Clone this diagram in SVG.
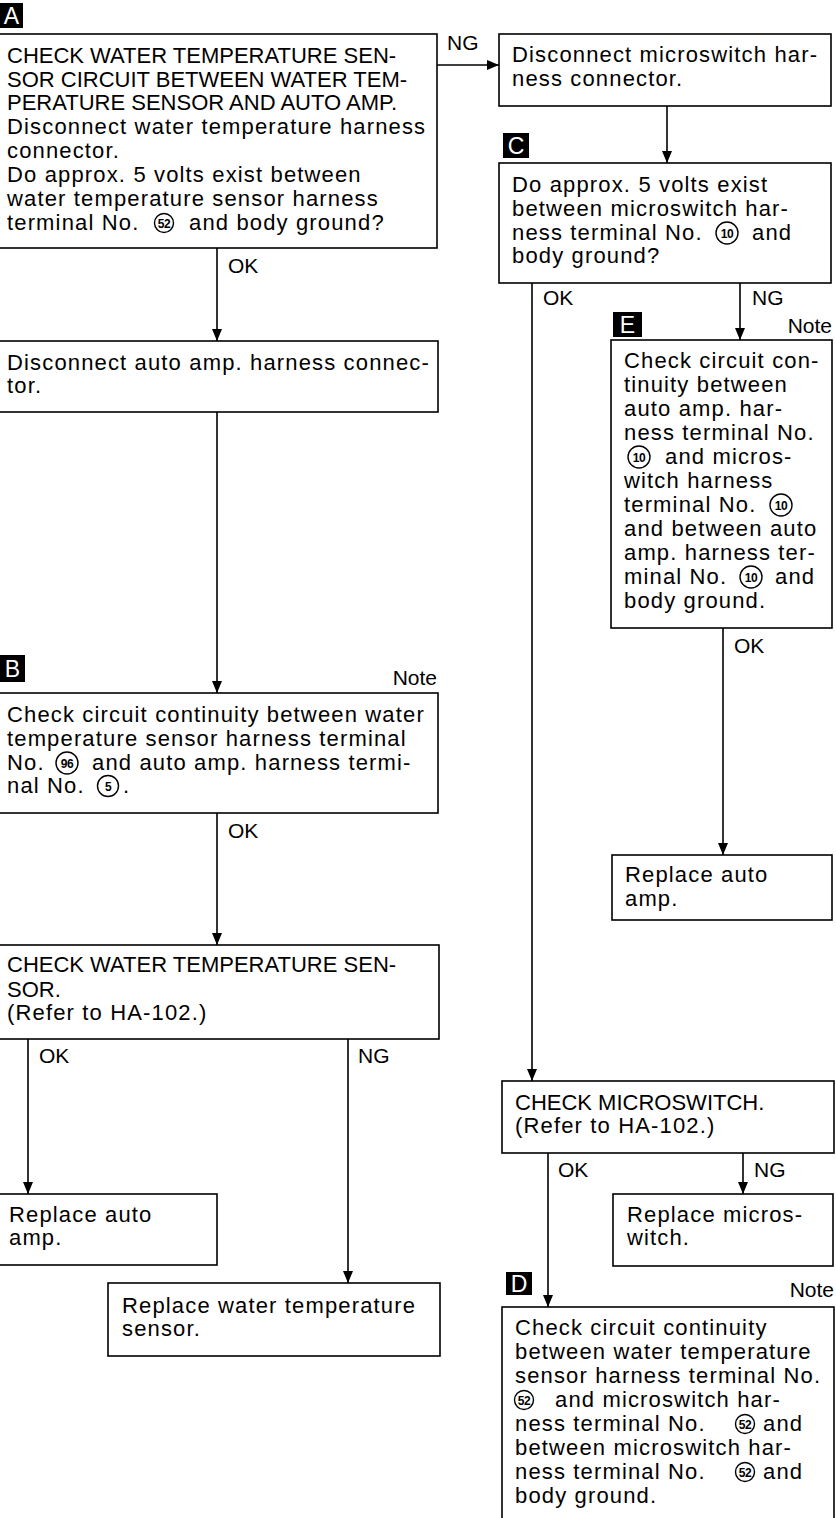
<svg xmlns="http://www.w3.org/2000/svg" width="836" height="1518" viewBox="0 0 836 1518">
<defs>
<style>
.box{fill:#fff;stroke:#000;stroke-width:1.6}
.t{font-family:"Liberation Sans",Arial,sans-serif;font-size:22px;fill:#000;letter-spacing:1.15px}
.c{font-family:"Liberation Sans",Arial,sans-serif;font-size:22px;fill:#000}
.lbl{font-family:"Liberation Sans",Arial,sans-serif;font-size:21px;fill:#000}
.tag{fill:#000}
.tagt{font-family:"Liberation Sans",Arial,sans-serif;font-size:23px;fill:#fff;text-anchor:middle}
.cn{fill:none;stroke:#000;stroke-width:1.4}
.cnt{font-family:"Liberation Sans",Arial,sans-serif;font-size:12px;font-weight:bold;fill:#000;text-anchor:middle;letter-spacing:-0.5px}
.ln{fill:none;stroke:#000;stroke-width:1.6}
</style>
<marker id="ah" markerUnits="userSpaceOnUse" markerWidth="12" markerHeight="10" refX="12" refY="5" orient="auto">
<path d="M0,0 L12,5 L0,10 Z" fill="#000"/>
</marker>
</defs>
<rect width="836" height="1518" fill="#fff"/>

<g id="connectors">
<line class="ln" x1="437" y1="65" x2="499" y2="65" marker-end="url(#ah)"/>
<line class="ln" x1="217" y1="248" x2="217" y2="341" marker-end="url(#ah)"/>
<line class="ln" x1="217" y1="412" x2="217" y2="693" marker-end="url(#ah)"/>
<line class="ln" x1="217" y1="813" x2="217" y2="945" marker-end="url(#ah)"/>
<line class="ln" x1="28" y1="1039" x2="28" y2="1194" marker-end="url(#ah)"/>
<line class="ln" x1="348" y1="1039" x2="348" y2="1283" marker-end="url(#ah)"/>
<line class="ln" x1="667" y1="106" x2="667" y2="163" marker-end="url(#ah)"/>
<line class="ln" x1="532" y1="283" x2="532" y2="1081" marker-end="url(#ah)"/>
<line class="ln" x1="740" y1="283" x2="740" y2="340" marker-end="url(#ah)"/>
<line class="ln" x1="723" y1="628" x2="723" y2="855" marker-end="url(#ah)"/>
<line class="ln" x1="548" y1="1153" x2="548" y2="1307" marker-end="url(#ah)"/>
<line class="ln" x1="743" y1="1153" x2="743" y2="1194" marker-end="url(#ah)"/>
<text class="lbl" x="447" y="50">NG</text>
<text class="lbl" x="228" y="273">OK</text>
<text class="lbl" x="228" y="838">OK</text>
<text class="lbl" x="543" y="305">OK</text>
<text class="lbl" x="752" y="305">NG</text>
<text class="lbl" x="734" y="653">OK</text>
<text class="lbl" x="39" y="1063">OK</text>
<text class="lbl" x="358" y="1063">NG</text>
<text class="lbl" x="558" y="1177">OK</text>
<text class="lbl" x="754" y="1177">NG</text>
</g>

<g id="nodeA">
<rect class="tag" x="0" y="3" width="23" height="25"/>
<text class="tagt" x="11.5" y="24">A</text>
<rect class="box" x="-2" y="34" width="439" height="214"/>
<text class="c" x="7" y="63">CHECK WATER TEMPERATURE SEN-</text>
<text class="c" x="7" y="87">SOR CIRCUIT BETWEEN WATER TEM-</text>
<text class="c" x="7" y="110">PERATURE SENSOR AND AUTO AMP.</text>
<text class="t" x="7" y="134">Disconnect water temperature harness</text>
<text class="t" x="7" y="158">connector.</text>
<text class="t" x="7" y="182">Do approx. 5 volts exist between</text>
<text class="t" x="7" y="206">water temperature sensor harness</text>
<text class="t" x="7" y="230">terminal No.</text>
<circle class="cn" cx="164" cy="223" r="9.5"/>
<text class="cnt" x="164" y="227.5">52</text>
<text class="t" x="189" y="230">and body ground?</text>
</g>

<g id="nodeDisconnectAutoAmp">
<rect class="box" x="-2" y="341" width="440" height="71"/>
<text class="t" x="7" y="370">Disconnect auto amp. harness connec-</text>
<text class="t" x="7" y="393">tor.</text>
</g>

<g id="nodeB">
<rect class="tag" x="0" y="655" width="25" height="27"/>
<text class="tagt" x="12.5" y="677">B</text>
<text class="lbl" x="437" y="685" text-anchor="end">Note</text>
<rect class="box" x="-2" y="693" width="440" height="120"/>
<text class="t" x="7" y="722">Check circuit continuity between water</text>
<text class="t" x="7" y="746">temperature sensor harness terminal</text>
<text class="t" x="7" y="770">No.</text>
<circle class="cn" cx="67" cy="763" r="11"/>
<text class="cnt" x="67" y="767.5">96</text>
<text class="t" x="92" y="770">and auto amp. harness termi-</text>
<text class="t" x="7" y="793">nal No.</text>
<circle class="cn" cx="108" cy="786" r="10.5"/>
<text class="cnt" x="108" y="791" font-size="14">5</text>
<text class="t" x="123" y="793">.</text>
</g>

<g id="nodeCheckWTS">
<rect class="box" x="-2" y="945" width="441" height="94"/>
<text class="c" x="7" y="972">CHECK WATER TEMPERATURE SEN-</text>
<text class="c" x="7" y="997">SOR.</text>
<text class="t" x="7" y="1020">(Refer to HA-102.)</text>
</g>

<g id="nodeReplaceAutoAmpL">
<rect class="box" x="-2" y="1194" width="219" height="71"/>
<text class="t" x="9" y="1222">Replace auto</text>
<text class="t" x="9" y="1245">amp.</text>
</g>

<g id="nodeReplaceWTS">
<rect class="box" x="108" y="1283" width="332" height="73"/>
<text class="t" x="122" y="1313">Replace water temperature</text>
<text class="t" x="122" y="1336">sensor.</text>
</g>

<g id="nodeDisconnectMicro">
<rect class="box" x="499" y="34" width="332" height="72"/>
<text class="t" x="512" y="62">Disconnect microswitch har-</text>
<text class="t" x="512" y="86">ness connector.</text>
</g>

<g id="nodeC">
<rect class="tag" x="503" y="133" width="26" height="25"/>
<text class="tagt" x="516" y="154">C</text>
<rect class="box" x="499" y="163" width="332" height="120"/>
<text class="t" x="512" y="192">Do approx. 5 volts exist</text>
<text class="t" x="512" y="216">between microswitch har-</text>
<text class="t" x="512" y="240">ness terminal No.</text>
<circle class="cn" cx="727" cy="233" r="11"/>
<text class="cnt" x="727" y="237.5">10</text>
<text class="t" x="752" y="240">and</text>
<text class="t" x="512" y="263">body ground?</text>
</g>

<g id="nodeE">
<rect class="tag" x="613" y="312" width="29" height="25"/>
<text class="tagt" x="627.5" y="333">E</text>
<text class="lbl" x="832" y="333" text-anchor="end">Note</text>
<rect class="box" x="611" y="340" width="221" height="288"/>
<text class="t" x="624" y="368">Check circuit con-</text>
<text class="t" x="624" y="392">tinuity between</text>
<text class="t" x="624" y="416">auto amp. har-</text>
<text class="t" x="624" y="440">ness terminal No.</text>
<circle class="cn" cx="639" cy="457" r="11"/>
<text class="cnt" x="639" y="461.5">10</text>
<text class="t" x="665" y="464">and micros-</text>
<text class="t" x="624" y="488">witch harness</text>
<text class="t" x="624" y="512">terminal No.</text>
<circle class="cn" cx="781" cy="505" r="11"/>
<text class="cnt" x="781" y="509.5">10</text>
<text class="t" x="624" y="536">and between auto</text>
<text class="t" x="624" y="560">amp. harness ter-</text>
<text class="t" x="624" y="584">minal No.</text>
<circle class="cn" cx="751" cy="577" r="11"/>
<text class="cnt" x="751" y="581.5">10</text>
<text class="t" x="775" y="584">and</text>
<text class="t" x="624" y="608">body ground.</text>
</g>

<g id="nodeReplaceAutoAmpR">
<rect class="box" x="612" y="855" width="220" height="65"/>
<text class="t" x="625" y="882">Replace auto</text>
<text class="t" x="625" y="906">amp.</text>
</g>

<g id="nodeCheckMicro">
<rect class="box" x="502" y="1081" width="332" height="72"/>
<text class="c" x="515" y="1110">CHECK MICROSWITCH.</text>
<text class="t" x="515" y="1133">(Refer to HA-102.)</text>
</g>

<g id="nodeReplaceMicro">
<rect class="box" x="613" y="1194" width="220" height="72"/>
<text class="t" x="627" y="1222">Replace micros-</text>
<text class="t" x="627" y="1245">witch.</text>
</g>

<g id="nodeD">
<rect class="tag" x="506" y="1272" width="26" height="23"/>
<text class="tagt" x="519" y="1292">D</text>
<text class="lbl" x="834" y="1297" text-anchor="end">Note</text>
<rect class="box" x="502" y="1307" width="332" height="230"/>
<text class="t" x="515" y="1335">Check circuit continuity</text>
<text class="t" x="515" y="1359">between water temperature</text>
<text class="t" x="515" y="1383">sensor harness terminal No.</text>
<circle class="cn" cx="524" cy="1400" r="9.5"/>
<text class="cnt" x="524" y="1404.5">52</text>
<text class="t" x="555" y="1407">and microswitch har-</text>
<text class="t" x="515" y="1431">ness terminal No.</text>
<circle class="cn" cx="745" cy="1424" r="9.5"/>
<text class="cnt" x="745" y="1428.5">52</text>
<text class="t" x="763" y="1431">and</text>
<text class="t" x="515" y="1455">between microswitch har-</text>
<text class="t" x="515" y="1479">ness terminal No.</text>
<circle class="cn" cx="745" cy="1472" r="9.5"/>
<text class="cnt" x="745" y="1476.5">52</text>
<text class="t" x="763" y="1479">and</text>
<text class="t" x="515" y="1503">body ground.</text>
</g>
</svg>
